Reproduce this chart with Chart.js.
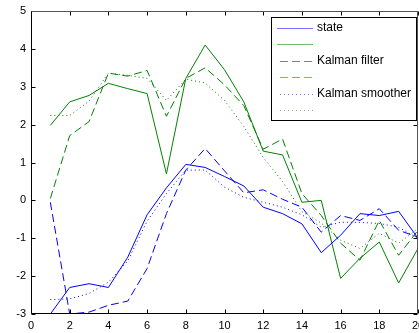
<!DOCTYPE html>
<html lang="en">
<head>
  <meta charset="UTF-8" />
  <title>Kalman filter and smoother</title>
  <script src="https://cdn.jsdelivr.net/npm/chart.js"></script>
  <style>
    html, body { margin: 0; padding: 0; background: #fff; }
    #wrap { width: 419px; height: 333px; }
  </style>
</head>
<body>
<div id="wrap"><canvas id="kfChart" width="419" height="333"></canvas></div>

<script>
  // time steps and the two state components (blue = 1st, green = 2nd)
  const steps = [1, 2, 3, 4, 5, 6, 7, 8, 9, 10, 11, 12, 13, 14, 15, 16, 17, 18, 19, 20];

  const stateA  = [-3.0, -2.3, -2.2, -2.3, -1.5, -0.38, 0.33, 0.95, 0.87, 0.63, 0.38, -0.18, -0.35, -0.62, -1.38, -0.92, -0.35, -0.4, -0.29, -1.0];
  const stateB  = [1.98, 2.6, 2.77, 3.09, 2.95, 2.82, 0.7, 3.22, 4.1, 3.45, 2.6, 1.3, 1.2, -0.05, 0.0, -2.06, -1.53, -1.1, -2.18, -1.27];
  const filterA = [-0.05, -3.0, -2.95, -2.77, -2.66, -1.8, -0.35, 0.8, 1.37, 0.78, 0.2, 0.28, 0.03, -0.18, -0.84, -0.4, -0.53, -0.22, -0.79, -0.97];
  const filterB = [0.05, 1.71, 2.08, 3.36, 3.28, 3.43, 2.22, 3.22, 3.5, 3.05, 2.5, 1.35, 1.62, 0.18, -0.4, -1.13, -1.58, -0.53, -1.45, -0.79];
  const smoothA = [-2.62, -2.6, -2.46, -2.16, -1.6, -0.55, 0.18, 0.8, 0.8, 0.35, 0.08, -0.05, -0.18, -0.38, -0.71, -0.58, -0.58, -0.61, -0.71, -1.0];
  const smoothB = [2.24, 2.24, 2.62, 3.36, 3.3, 3.22, 2.64, 3.2, 3.1, 2.64, 1.95, 1.13, 0.5, -0.3, -0.6, -1.05, -1.27, -0.87, -1.13, -0.74];

  const legendLabels = ['state', '', 'Kalman filter', '', 'Kalman smoother', ''];

  const BLUE = '#0000ff';
  const GREEN = '#008000';
  const SOLID = [];
  const DASH = [8, 4];
  const DOT = [1, 3];

  // colour + dash for each row, same order as the datasets
  const lineStyles = [
    [BLUE, SOLID], [GREEN, SOLID],
    [BLUE, DASH], [GREEN, DASH],
    [BLUE, DOT], [GREEN, DOT]
  ];

  const toPts = vals => steps.map((s, i) => ({ x: s, y: vals[i] }));

  function series(i, vals) {
    return {
      label: legendLabels[i],
      data: toPts(vals),
      borderColor: lineStyles[i][0],
      borderWidth: 1,
      borderDash: lineStyles[i][1],
      pointRadius: 0,
      tension: 0,
      fill: false
    };
  }

  // matlab-ish box with ticks pointing inwards
  const boxAxes = {
    id: 'boxAxes',
    afterDatasetsDraw(chart) {
      const { ctx, chartArea: a, scales: { x, y } } = chart;
      const L = a.left + 0.5, R = a.right - 0.5, T = a.top + 0.5, B = a.bottom - 0.5;
      const tl = 4;
      ctx.save();
      ctx.lineWidth = 1;
      ctx.setLineDash([]);
      ctx.strokeStyle = '#000';
      ctx.beginPath();
      x.ticks.forEach(t => {
        const px = Math.round(x.getPixelForValue(t.value)) + 0.5;
        ctx.moveTo(px, B); ctx.lineTo(px, B - tl);
        ctx.moveTo(px, T); ctx.lineTo(px, T + tl);
      });
      y.ticks.forEach(t => {
        const py = Math.round(y.getPixelForValue(t.value)) + 0.5;
        ctx.moveTo(L, py); ctx.lineTo(L + tl, py);
        ctx.moveTo(R, py); ctx.lineTo(R - tl, py);
      });
      ctx.stroke();
      ctx.strokeStyle = '#555';
      ctx.beginPath();
      ctx.moveTo(L, T); ctx.lineTo(R, T); ctx.lineTo(R, B);
      ctx.stroke();
      ctx.strokeStyle = '#000';
      ctx.beginPath();
      ctx.moveTo(L, T); ctx.lineTo(L, B); ctx.lineTo(R, B);
      ctx.stroke();
      ctx.restore();
    }
  };

  // legend box inside the top right corner, samples drawn a bit faded like the original
  const boxLegend = {
    id: 'boxLegend',
    afterDraw(chart) {
      const ctx = chart.ctx;
      const bx = 271.5, by = 17.5, bw = 145, bh = 103;
      const rows = [28, 44, 61, 77, 94, 110];
      ctx.save();
      ctx.setLineDash([]);
      ctx.fillStyle = '#fff';
      ctx.fillRect(bx, by, bw, bh);
      ctx.strokeStyle = '#000';
      ctx.lineWidth = 1;
      ctx.strokeRect(bx, by, bw, bh);
      ctx.font = '12px "Liberation Sans", Arial, sans-serif';
      ctx.textBaseline = 'middle';
      ctx.textAlign = 'left';
      lineStyles.forEach(([color, dash], i) => {
        const yy = rows[i] + 0.5;
        ctx.save();
        ctx.globalAlpha = 0.55;
        ctx.lineWidth = 1;
        ctx.strokeStyle = color;
        ctx.setLineDash(dash);
        ctx.beginPath();
        ctx.moveTo(dash.length ? 280 : 277, yy);
        ctx.lineTo(313, yy);
        ctx.stroke();
        ctx.restore();
        if (legendLabels[i]) {
          ctx.fillStyle = '#000';
          ctx.fillText(legendLabels[i], 317, rows[i]);
        }
      });
      ctx.restore();
    }
  };

  const tickFont = { family: '"Liberation Sans", Arial, sans-serif', size: 11 };

  const kfChart = new Chart(document.getElementById('kfChart').getContext('2d'), {
    type: 'line',
    data: {
      datasets: [
        series(0, stateA),
        series(1, stateB),
        series(2, filterA),
        series(3, filterB),
        series(4, smoothA),
        series(5, smoothB)
      ]
    },
    options: {
      responsive: false,
      animation: false,
      devicePixelRatio: 1,
      layout: { padding: { top: 11, right: 1, left: 0, bottom: 0 } },
      plugins: { legend: { display: false }, tooltip: { enabled: false } },
      scales: {
        x: {
          type: 'linear',
          min: 0, max: 20,
          grid: { display: false, drawTicks: false },
          border: { display: false },
          ticks: { stepSize: 2, padding: 5, color: '#000', font: tickFont, maxRotation: 0 },
          afterFit: s => { s.height = 19; s.paddingLeft = 0; s.paddingRight = 0; }
        },
        y: {
          min: -3, max: 5,
          grid: { display: false, drawTicks: false },
          border: { display: false },
          ticks: { stepSize: 1, padding: 5, color: '#000', font: tickFont },
          afterFit: s => { s.width = 31; s.paddingTop = 0; s.paddingBottom = 0; }
        }
      }
    },
    plugins: [boxAxes, boxLegend]
  });
</script>
</body>
</html>
